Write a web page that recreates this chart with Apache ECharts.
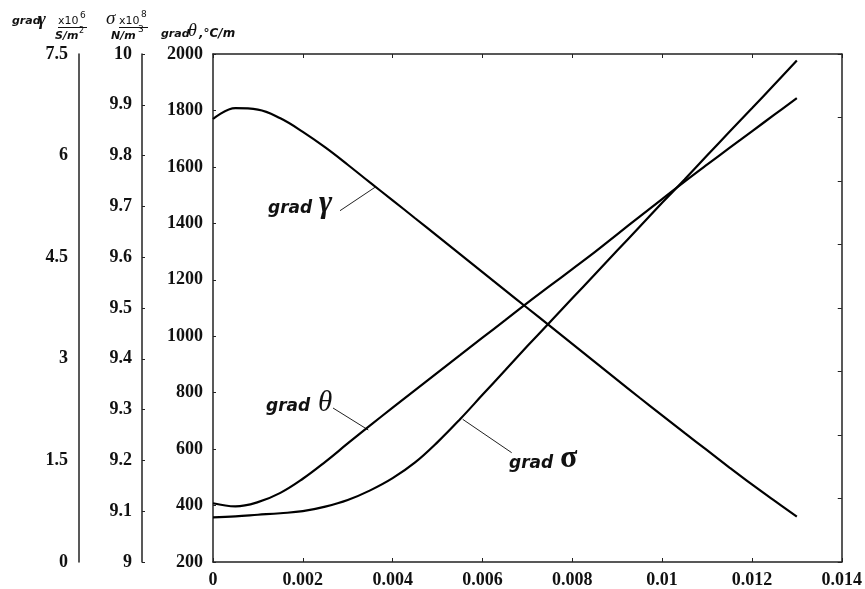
<!DOCTYPE html>
<html>
<head>
<meta charset="utf-8">
<script src="https://cdn.jsdelivr.net/npm/echarts@6/dist/echarts.min.js"></script>
<style>
html,body{margin:0;padding:0;background:#fff;}
#chart{width:865px;height:589px;}
</style>
</head>
<body>
<div id="chart"></div>
<script>
// x positions (m)
const xValues = [0,0.0005,0.001,0.0015,0.002,0.0025,0.003,0.0035,0.004,0.0045,0.005,0.0055,0.006,0.0065,0.007,0.0075,0.008,0.0085,0.009,0.0095,0.01,0.0105,0.011,0.0115,0.012,0.0125,0.013];
// grad theta, °C/m (main axis)
const gradTheta = [408,397,412,445,495,555,620,684,747,809,871,933,995,1056,1118,1178,1238,1298,1361,1424,1486,1548,1608,1667,1726,1785,1844];
// sigma x10^8 N/m^3
const sigmaVals = [9.088,9.090,9.093,9.096,9.100,9.109,9.122,9.141,9.165,9.196,9.236,9.281,9.329,9.377,9.425,9.472,9.519,9.566,9.613,9.660,9.707,9.753,9.800,9.847,9.893,9.940,9.987];
// grad gamma x10^6 S/m^2
const gradGamma = [6.54,6.70,6.68,6.55,6.35,6.12,5.865,5.60,5.34,5.075,4.81,4.545,4.28,4.015,3.75,3.485,3.22,2.955,2.69,2.425,2.165,1.905,1.65,1.395,1.145,0.905,0.67];

// axis tick settings
const xTicks = {min:0, max:0.014, interval:0.002};
const thetaTicks = {min:200, max:2000, interval:200};
const sigmaTicks = {min:9, max:10, interval:0.1};
const gammaTicks = {min:0, max:7.5, interval:1.5};

const SERIF = '"Liberation Serif","Times New Roman",serif';
const SANS = '"DejaVu Sans",Verdana,sans-serif';
const axisLineStyle = {show:true, onZero:false, lineStyle:{color:'#222', width:1.5}};
const tickLabel = {color:'#111', fontFamily:SERIF, fontWeight:'bold', fontSize:18};
const plain = v => String(Number(v.toFixed(4)));

function pairs(ys){ return xValues.map((x,i)=>[x, ys[i]]); }

const chart = echarts.init(document.getElementById('chart'), null, {renderer:'canvas'});

const option = {
  animation:false,
  backgroundColor:'#fff',
  grid:{left:213, right:15, top:54, bottom:25},
  xAxis:[
    {type:'value', position:'bottom', min:xTicks.min, max:xTicks.max, interval:xTicks.interval,
     axisLine:axisLineStyle, axisTick:{show:true, inside:true, length:4, lineStyle:{color:'#222'}},
     axisLabel:Object.assign({margin:9, formatter:plain}, tickLabel, {fontSize:18}), splitLine:{show:false}},
    {type:'value', position:'top', min:xTicks.min, max:xTicks.max, interval:xTicks.interval,
     axisLine:axisLineStyle, axisTick:{show:true, inside:true, length:4, lineStyle:{color:'#222'}},
     axisLabel:{show:false}, splitLine:{show:false}}
  ],
  yAxis:[
    {type:'value', position:'left', offset:0, min:thetaTicks.min, max:thetaTicks.max, interval:thetaTicks.interval,
     axisLine:axisLineStyle, axisTick:{show:true, inside:true, length:3, lineStyle:{color:'#222'}},
     axisLabel:Object.assign({margin:10, formatter:plain}, tickLabel), splitLine:{show:false}},
    {type:'value', position:'left', offset:71, min:sigmaTicks.min, max:sigmaTicks.max, interval:sigmaTicks.interval,
     axisLine:axisLineStyle, axisTick:{show:true, inside:true, length:3, lineStyle:{color:'#222'}},
     axisLabel:Object.assign({margin:10, formatter:plain}, tickLabel), splitLine:{show:false}},
    {type:'value', position:'left', offset:134, min:gammaTicks.min, max:gammaTicks.max, interval:gammaTicks.interval,
     axisLine:axisLineStyle, axisTick:{show:false},
     axisLabel:Object.assign({margin:11, formatter:plain}, tickLabel), splitLine:{show:false}},
    {type:'value', position:'right', min:0, max:8, interval:1,
     axisLine:axisLineStyle, axisTick:{show:true, inside:true, length:4, lineStyle:{color:'#222'}},
     axisLabel:{show:false}, splitLine:{show:false}}
  ],
  series:[
    {name:'grad θ', type:'line', xAxisIndex:0, yAxisIndex:0, data:pairs(gradTheta), smooth:0.4, showSymbol:false, symbol:'none',
     lineStyle:{color:'#000', width:2.2}},
    {name:'σ', type:'line', xAxisIndex:0, yAxisIndex:1, data:pairs(sigmaVals), smooth:0.4, showSymbol:false, symbol:'none',
     lineStyle:{color:'#000', width:2.2}},
    {name:'grad γ', type:'line', xAxisIndex:0, yAxisIndex:2, data:pairs(gradGamma), smooth:0.4, showSymbol:false, symbol:'none',
     lineStyle:{color:'#000', width:2.2}}
  ],
  graphic:{elements:[
    // header: grad gamma x10^6 / S/m^2
    {type:'text', x:12, y:27, style:{text:'grad', font:'italic bold 11px '+SANS, fill:'#111', verticalAlign:'bottom'}},
    {type:'text', x:38, y:30, style:{text:'γ', font:'italic bold 19px '+SERIF, fill:'#111', verticalAlign:'bottom'}},
    {type:'text', x:58, y:27, style:{text:'x10', font:'11px '+SANS, fill:'#111', verticalAlign:'bottom'}},
    {type:'text', x:80, y:20, style:{text:'6', font:'9px '+SANS, fill:'#111', verticalAlign:'bottom'}},
    {type:'line', shape:{x1:58, y1:27.5, x2:87, y2:27.5}, style:{stroke:'#111', lineWidth:1}},
    {type:'text', x:55, y:42, style:{text:'S/m', font:'italic bold 11px '+SANS, fill:'#111', verticalAlign:'bottom'}},
    {type:'text', x:79, y:35, style:{text:'2', font:'8px '+SANS, fill:'#111', verticalAlign:'bottom'}},
    // header: sigma x10^8 / N/m^3
    {type:'text', x:106, y:28, style:{text:'σ', font:'italic 19px '+SERIF, fill:'#111', verticalAlign:'bottom'}},
    {type:'text', x:119, y:27, style:{text:'x10', font:'11px '+SANS, fill:'#111', verticalAlign:'bottom'}},
    {type:'text', x:141, y:19, style:{text:'8', font:'9px '+SANS, fill:'#111', verticalAlign:'bottom'}},
    {type:'line', shape:{x1:119, y1:27.5, x2:148, y2:27.5}, style:{stroke:'#111', lineWidth:1}},
    {type:'text', x:111, y:42, style:{text:'N/m', font:'italic bold 11px '+SANS, fill:'#111', verticalAlign:'bottom'}},
    {type:'text', x:138, y:34, style:{text:'3', font:'9px '+SANS, fill:'#111', verticalAlign:'bottom'}},
    // header: grad theta, °C/m
    {type:'text', x:161, y:40, style:{text:'grad', font:'italic bold 11px '+SANS, fill:'#111', verticalAlign:'bottom'}},
    {type:'text', x:188, y:40, style:{text:'θ', font:'italic 18px '+SERIF, fill:'#111', verticalAlign:'bottom'}},
    {type:'text', x:199, y:40, style:{text:',°C/m', font:'italic bold 12px '+SANS, fill:'#111', verticalAlign:'bottom'}},
    // in-plot annotations
    {type:'text', x:268, y:217, style:{text:'grad', font:'italic bold 17px '+SANS, fill:'#111', verticalAlign:'bottom'}},
    {type:'text', x:319, y:220, style:{text:'γ', font:'italic bold 32px '+SERIF, fill:'#111', verticalAlign:'bottom'}},
    {type:'line', shape:{x1:340, y1:210.7, x2:375, y2:187.3}, style:{stroke:'#222', lineWidth:1}},
    {type:'text', x:266, y:415, style:{text:'grad', font:'italic bold 17px '+SANS, fill:'#111', verticalAlign:'bottom'}},
    {type:'text', x:318, y:418, style:{text:'θ', font:'italic 29px '+SERIF, fill:'#111', verticalAlign:'bottom'}},
    {type:'line', shape:{x1:333, y1:408, x2:368.3, y2:430}, style:{stroke:'#222', lineWidth:1}},
    {type:'text', x:509, y:472, style:{text:'grad', font:'italic bold 17px '+SANS, fill:'#111', verticalAlign:'bottom'}},
    {type:'text', x:560, y:475, style:{text:'σ', font:'bold 32px '+SERIF, fill:'#111', verticalAlign:'bottom'}},
    {type:'line', shape:{x1:462.7, y1:419.3, x2:511.7, y2:452.7}, style:{stroke:'#222', lineWidth:1}}
  ]}
};
chart.setOption(option);
</script>
</body>
</html>
